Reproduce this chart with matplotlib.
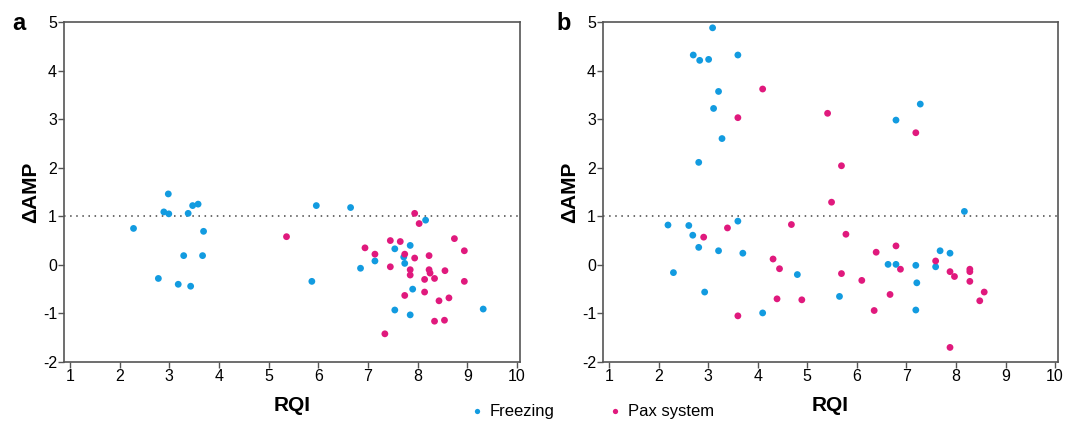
import numpy as np
import matplotlib.pyplot as plt
from matplotlib.lines import Line2D

plt.rcParams['font.family'] = ['Liberation Sans', 'DejaVu Sans']
plt.rcParams['axes.unicode_minus'] = False

########
# Data (RQI, delta AMP)
# Panel a
a_freeze_x = [2.28, 2.98, 2.89, 2.99, 3.38, 3.47, 3.58, 3.69, 3.29, 3.67, 2.78, 3.18, 3.43,
              5.96, 6.65, 5.87, 6.85, 8.16, 7.85, 7.54, 7.72, 7.14, 7.74, 7.90, 7.54, 7.85, 9.32]
a_freeze_y = [0.75, 1.46, 1.09, 1.05, 1.06, 1.22, 1.25, 0.69, 0.19, 0.19, -0.28, -0.40, -0.44,
              1.22, 1.18, -0.34, -0.07, 0.92, 0.40, 0.33, 0.16, 0.08, 0.03, -0.50, -0.93, -1.03, -0.91]
a_pax_x = [5.36, 7.94, 8.03, 8.74, 7.45, 7.65, 6.94, 8.94, 7.14, 7.74, 8.23, 7.94, 7.45, 7.85,
           8.23, 8.25, 7.85, 8.55, 8.14, 8.34, 8.94, 8.14, 7.74, 8.63, 8.43, 8.34, 8.54, 7.34]
a_pax_y = [0.58, 1.06, 0.85, 0.54, 0.50, 0.48, 0.35, 0.29, 0.22, 0.22, 0.19, 0.14, -0.04, -0.10,
           -0.10, -0.17, -0.21, -0.12, -0.30, -0.28, -0.34, -0.56, -0.63, -0.68, -0.74, -1.16, -1.14, -1.42]

# Panel b
b_freeze_x = [3.09, 2.70, 2.83, 3.01, 3.60, 3.21, 3.11, 3.28, 2.81, 2.19, 2.61, 3.60, 2.69,
              2.81, 3.21, 3.70, 2.30, 4.80, 2.93, 5.65, 4.10, 7.28, 6.79, 8.17, 7.68, 7.88,
              6.63, 6.79, 7.19, 7.59, 7.21, 7.19]
b_freeze_y = [4.88, 4.32, 4.21, 4.23, 4.32, 3.57, 3.22, 2.60, 2.11, 0.82, 0.81, 0.90, 0.61,
              0.36, 0.29, 0.24, -0.16, -0.20, -0.56, -0.65, -0.99, 3.31, 2.98, 1.10, 0.29, 0.24,
              0.01, 0.01, -0.01, -0.04, -0.37, -0.93]
b_pax_x = [4.10, 3.60, 5.41, 5.69, 5.49, 3.39, 4.68, 2.91, 5.78, 4.31, 4.44, 5.69, 4.39, 4.89,
           3.60, 7.19, 6.79, 6.39, 7.59, 6.88, 7.88, 7.97, 8.28, 8.28, 6.10, 8.28, 8.57, 8.48,
           6.67, 6.35, 7.88]
b_pax_y = [3.62, 3.03, 3.12, 2.04, 1.29, 0.76, 0.83, 0.57, 0.63, 0.12, -0.08, -0.18, -0.70, -0.72,
           -1.05, 2.72, 0.39, 0.26, 0.08, -0.09, -0.14, -0.24, -0.09, -0.14, -0.32, -0.34, -0.56, -0.74,
           -0.61, -0.94, -1.70]

blue = '#129be0'
pink = '#e0197d'
spine_col = '#555555'

fig = plt.figure(figsize=(10.79, 4.22), dpi=100)
ax_a = fig.add_axes([0.0593, 0.1422, 0.4226, 0.8057])
ax_b = fig.add_axes([0.5589, 0.1422, 0.4217, 0.8057])

panels = [(ax_a, a_freeze_x, a_freeze_y, a_pax_x, a_pax_y, 'a', 0.011),
          (ax_b, b_freeze_x, b_freeze_y, b_pax_x, b_pax_y, 'b', 0.516)]

for ax, fx, fy, px, py, tag, tx in panels:
    ax.axhline(1, color='#444444', linestyle=(0, (1, 3)), linewidth=1.1, zorder=1)
    ax.scatter(fx, fy, s=24, color=blue, edgecolors='none', zorder=3)
    ax.scatter(px, py, s=24, color=pink, edgecolors='none', zorder=3)
    ax.set_xlim(0.88, 10.06)
    ax.set_ylim(-2, 5)
    ax.set_xticks(range(1, 11))
    ax.set_yticks(range(-2, 6))
    ax.tick_params(labelsize=11.5, length=4, width=1, color=spine_col, pad=1)
    for s in ax.spines.values():
        s.set_color(spine_col)
        s.set_linewidth(1.2)
    ax.set_xlabel('RQI', fontsize=15, fontweight='bold', labelpad=9)
    ax.set_ylabel('ΔAMP', fontsize=15, fontweight='bold', labelpad=2)
    fig.text(tx, 0.945, tag, fontsize=17, fontweight='bold', va='center')

handles = [Line2D([], [], marker='o', linestyle='none', markersize=3.8, color=blue,
                  markeredgewidth=0, label='Freezing'),
           Line2D([], [], marker='o', linestyle='none', markersize=3.8, color=pink,
                  markeredgewidth=0, label='Pax system')]
fig.legend(handles=handles, loc='center', bbox_to_anchor=(0.548, 0.024), ncol=2,
           frameon=False, fontsize=12, handlelength=1.0, handletextpad=0.3,
           columnspacing=3.1, borderpad=0, borderaxespad=0)

fig.savefig('out.png', dpi=100)
